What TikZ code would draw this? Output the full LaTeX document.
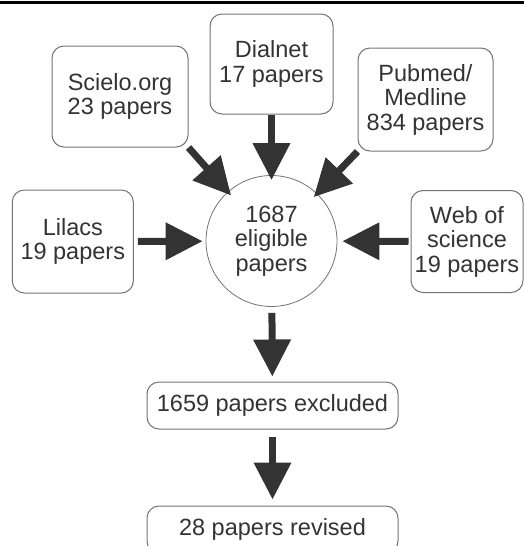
\documentclass[tikz,border=0pt]{standalone}
\usepackage{fontspec}
\setmainfont{Liberation Sans}
\usetikzlibrary{arrows.meta}

\begin{document}
\begin{tikzpicture}[x=1pt,y=-1pt,
    every node/.style={text=black!80, font=\fontsize{23.5}{24.5}\selectfont, align=center, inner sep=0pt},
    source/.style={draw=black!55, line width=1pt, rounded corners=12pt},
    result/.style={source, minimum width=251pt, minimum height=47pt},
    flow/.style={draw=black!80, line width=7pt, -{Triangle[width=36pt,length=37pt]}, shorten <=0pt, shorten >=-5pt}]
    \clip (0,0) rectangle (524,546);
    \fill [black] (0,1) rectangle (524,4);
    \node [source, minimum width=136pt, minimum height=101pt] (scielo) at (120,96.5) {Scielo.org\\23 papers};
    \node [source, minimum width=123pt, minimum height=100pt] (dialnet) at (271.5,64) {Dialnet\\17 papers};
    \node [source, minimum width=135pt, minimum height=103pt] (pubmed) at (425.5,99.5) {Pubmed/\\Medline\\834 papers};
    \node [source, minimum width=121pt, minimum height=103pt] (lilacs) at (72.8,241.5) {Lilacs\\19 papers};
    \node [source, minimum width=112pt, minimum height=102pt] (wos) at (467,241.5) {Web of\\science\\19 papers};
    \node [circle, draw=black!55, line width=0.8pt, minimum size=131pt] (hub) at (271.5,241) {1687\\eligible\\papers};
    \node [result] (excluded) at (272.5,405.5) {1659 papers excluded};
    \node [result] (revised) at (272.5,529.5) {28 papers revised};
    \draw [flow] (scielo.south east) -- (hub);
    \draw [flow] (dialnet) -- (hub);
    \draw [flow] (pubmed.south west) -- (hub);
    \draw [flow, shorten <=4pt, shorten >=3pt] (lilacs) -- (hub);
    \draw [flow, shorten <=2pt, shorten >=5pt] (wos) -- (hub);
    \draw [flow, shorten <=6pt, shorten >=5pt] (hub) -- (excluded);
    \draw [flow, shorten <=7pt, shorten >=6pt] (excluded) -- (revised);
\end{tikzpicture}
\end{document}
